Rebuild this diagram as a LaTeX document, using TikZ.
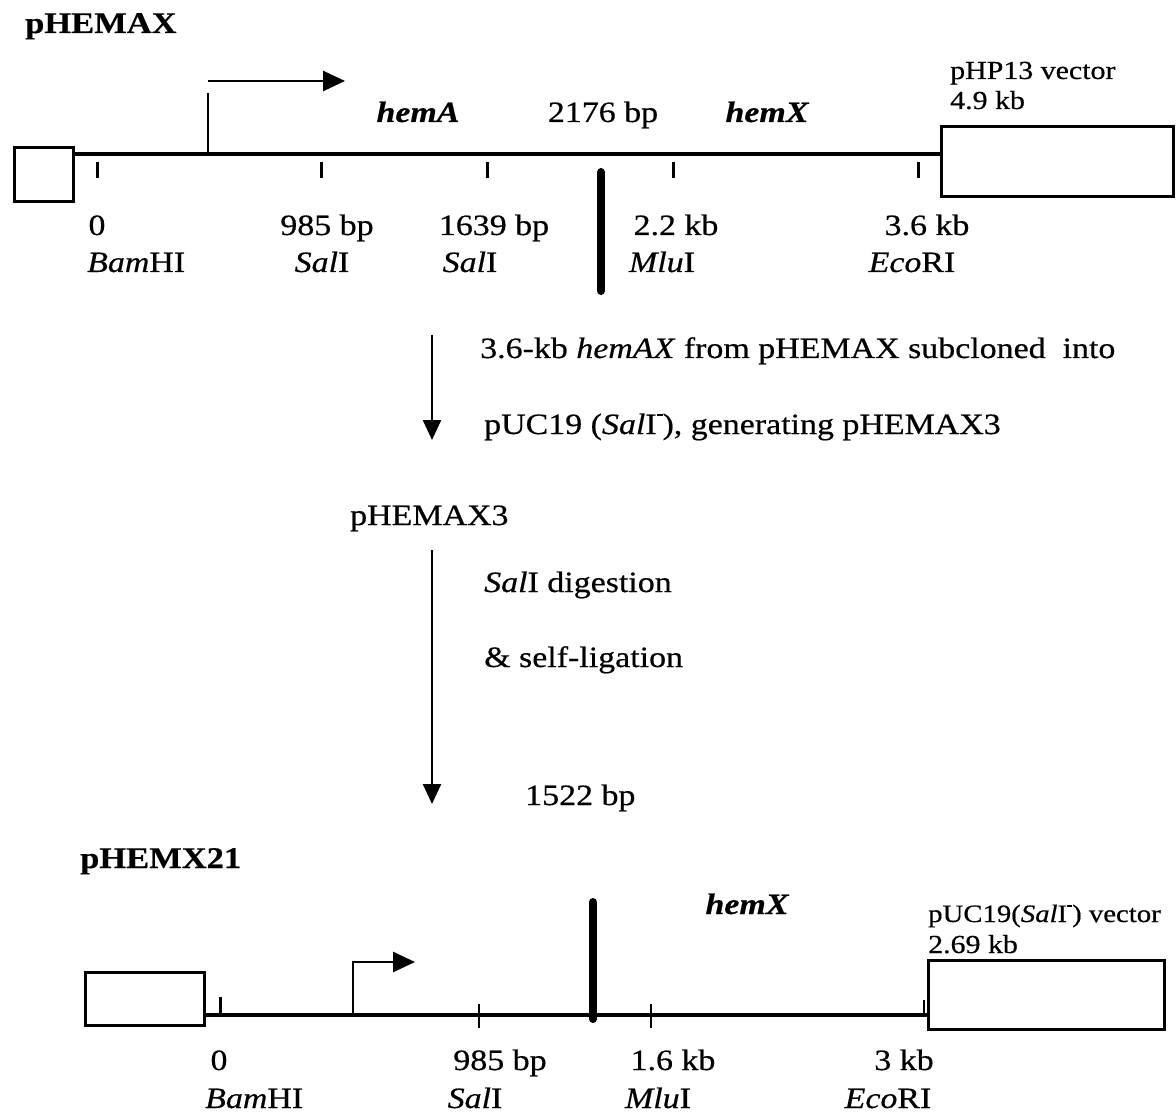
\documentclass[tikz,border=0pt]{standalone}
\usepackage{fontspec}
\setmainfont{Liberation Serif}[FakeStretch=1.15, FakeBold=0.5]
\usetikzlibrary{arrows.meta}
\newcommand\supminus{\raisebox{0.62em}{\rule{0.2em}{0.07em}}}
\begin{document}
\begin{tikzpicture}[x=1pt,y=-1pt,
  lbl/.style={font=\fontsize{29.5}{34}\selectfont, inner sep=0pt, anchor=base},
  lblw/.style={lbl, anchor=base west},
  small/.style={font=\fontsize{26}{30}\selectfont, inner sep=0pt, anchor=base west},
  ttl/.style={font=\fontsize{30}{34}\selectfont\bfseries, inner sep=0pt, anchor=base west},
  gene/.style={font=\fontsize{29.5}{34}\selectfont\bfseries\itshape, inner sep=0pt, anchor=base},
  boxn/.style={draw, line width=3pt, inner sep=0pt, anchor=north west},
  dna/.style={line width=3.4pt},
  tick/.style={line width=3pt},
  bar/.style={line width=8pt, line cap=round},
  prom/.style={line width=2.8pt, -{Triangle[length=22pt,width=20pt]}},
  step1/.style={line width=2.4pt, -{Triangle[length=20pt,width=18pt]}}]
\useasboundingbox (0,0) rectangle (1176,1115);
\fill[white] (0,0) rectangle (1176,1115);

% ---------- pHEMAX ----------
\node[ttl] (t1) at (25,33) {pHEMAX};
\node[boxn, minimum width=59pt, minimum height=54pt] (lb1) at (13,146) {};
\node[boxn, minimum width=232pt, minimum height=70pt] (rb1) at (940,125) {};
\coordinate (l1a) at (72,154);
\coordinate (l1b) at (940,154);
\draw[dna] (l1a) -- (l1b);
\foreach \x/\n in {97/a,321/b,487/c,673/d,918/e}{
  \coordinate (k1\n a) at (\x,162); \coordinate (k1\n b) at (\x,178);
  \draw[tick] (k1\n a) -- (k1\n b);}
\coordinate (p1a) at (208,155);
\coordinate (p1b) at (208,93);
\coordinate (p1c) at (208,81);
\coordinate (p1d) at (345,81);
\draw[line width=2.8pt] (p1a) -- (p1b);
\draw[prom] (p1c) -- (p1d);
\coordinate (b1a) at (601,172);
\coordinate (b1b) at (601,291);
\draw[bar] (b1a) -- (b1b);
\node[gene] (hA) at (418,122) {hemA};
\node[lbl] (len1) at (603,122) {2176 bp};
\node[gene] (hX1) at (767,122) {hemX};
\node[small] (v1) at (950,79) {pHP13 vector};
\node[small] (v1s) at (950,109) {4.9 kb};
\node[lbl] (a0) at (97,235) {0};
\node[lbl] (a1) at (327,235) {985 bp};
\node[lbl] (a2) at (494,235) {1639 bp};
\node[lbl] (a3) at (676,235) {2.2 kb};
\node[lbl] (a4) at (927,235) {3.6 kb};
\node[lblw] (e0) at (87,272) {\textit{Bam}HI};
\node[lbl] (e1) at (322,272) {\textit{Sal}I};
\node[lbl] (e2) at (470,272) {\textit{Sal}I};
\node[lbl] (e3) at (662,272) {\textit{Mlu}I};
\node[lbl] (e4) at (912,272) {\textit{Eco}RI};

% ---------- middle ----------
\coordinate (s1a) at (432,335);
\coordinate (s1b) at (432,440);
\draw[step1] (s1a) -- (s1b);
\node[lblw] (m1) at (480,358) {3.6-kb \textit{hemAX} from pHEMAX subcloned\ \ into};
\node[lblw] (m2) at (484,434) {pUC19 (\textit{Sal}I\supminus), generating pHEMAX3};
\node[lblw] (m3) at (350,525) {pHEMAX3};
\coordinate (s2a) at (432,550);
\coordinate (s2b) at (432,804);
\draw[step1] (s2a) -- (s2b);
\node[lblw] (m4) at (484,592) {\textit{Sal}I digestion};
\node[lblw] (m5) at (484,667) {\& self-ligation};
\node[lblw] (m6) at (525,805) {1522 bp};

% ---------- pHEMX21 ----------
\node[ttl] (t2) at (80,868) {pHEMX21};
\node[boxn, minimum width=119pt, minimum height=53pt] (lb2) at (84,971) {};
\node[boxn, minimum width=236pt, minimum height=69pt] (rb2) at (927,959) {};
\coordinate (l2a) at (203,1015);
\coordinate (l2b) at (927,1015);
\draw[dna] (l2a) -- (l2b);
\coordinate (k2aa) at (220,997); \coordinate (k2ab) at (220,1015);
\draw[tick] (k2aa) -- (k2ab);
\coordinate (k2ba) at (479,1004); \coordinate (k2bb) at (479,1028);
\draw[line width=2.4pt] (k2ba) -- (k2bb);
\coordinate (k2ca) at (651,1004); \coordinate (k2cb) at (651,1028);
\draw[line width=2.4pt] (k2ca) -- (k2cb);
\coordinate (k2da) at (924,1000); \coordinate (k2db) at (924,1015);
\draw[line width=2pt] (k2da) -- (k2db);
\coordinate (p2a) at (353,1015);
\coordinate (p2b) at (353,962);
\coordinate (p2c) at (415,962);
\draw[prom] (p2a) -- (p2b) -- (p2c);
\coordinate (b2a) at (593,902);
\coordinate (b2b) at (593,1019);
\draw[bar] (b2a) -- (b2b);
\node[gene] (hX2) at (747,914) {hemX};
\node[small, font=\fontsize{25}{30}\selectfont] (v2) at (928,922) {pUC19(\textit{Sal}I\supminus) vector};
\node[small] (v2s) at (928,953) {2.69 kb};
\node[lbl] (c0) at (219,1070) {0};
\node[lbl] (c1) at (500,1070) {985 bp};
\node[lbl] (c2) at (673,1070) {1.6 kb};
\node[lbl] (c3) at (904,1070) {3 kb};
\node[lblw] (f0) at (205,1108) {\textit{Bam}HI};
\node[lbl] (f1) at (475,1108) {\textit{Sal}I};
\node[lbl] (f2) at (658,1108) {\textit{Mlu}I};
\node[lbl] (f3) at (888,1108) {\textit{Eco}RI};
\end{tikzpicture}
\end{document}
